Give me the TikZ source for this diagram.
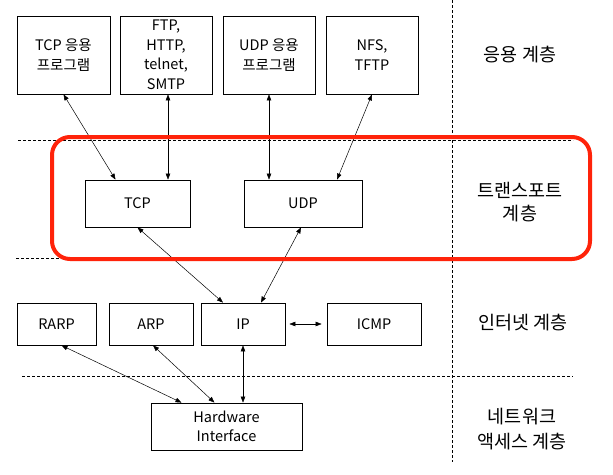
\documentclass[tikz,border=0pt]{standalone}
\usepackage{fontspec}
\setmainfont{Noto Sans CJK KR}
\usetikzlibrary{positioning, arrows.meta}
\definecolor{highlightRed}{RGB}{255, 35, 10}

\begin{document}
\begin{tikzpicture}[x=1pt, y=-1pt, font=\fontsize{14.5}{19.5}\selectfont,
    box/.style={draw, line width=0.8pt, align=center, inner sep=0pt},
    layer/.style={align=center, font=\fontsize{18.5}{23}\selectfont},
    link/.style={{Triangle[length=6pt,width=4.5pt]}-{Triangle[length=6pt,width=4.5pt]}, line width=0.5pt},
    sep/.style={dash pattern=on 3pt off 2pt, line width=0.6pt}]
        \useasboundingbox (0,0) rectangle (613,474);

        % Layer separators
        \draw[sep] (18,140) -- (573,140);
        \draw[sep] (16,258) -- (573,258);
        \draw[sep] (22,376) -- (573,376);
        \draw[sep] (452,0) -- (452,462);

        % Application layer
        \node[box, minimum width=93pt, minimum height=78pt] (tcpapp) at (63.5,55) {TCP 응용\\프로그램};
        \node[box, minimum width=92pt, minimum height=78pt] (ftp) at (166,55) {FTP,\\HTTP,\\telnet,\\SMTP};
        \node[box, minimum width=92pt, minimum height=78pt] (udpapp) at (269,55) {UDP 응용\\프로그램};
        \node[box, minimum width=92pt, minimum height=78pt] (nfs) at (372,55) {NFS,\\TFTP};

        % Transport layer
        \node[box, minimum width=105pt, minimum height=47pt] (tcp) at (137.5,203.5) {TCP};
        \node[box, minimum width=118pt, minimum height=47pt] (udp) at (303,203.5) {UDP};

        % Internet layer
        \node[box, minimum width=79pt, minimum height=42pt] (rarp) at (56.5,324) {RARP};
        \node[box, minimum width=84pt, minimum height=42pt] (arp) at (151,324) {ARP};
        \node[box, minimum width=84pt, minimum height=42pt] (ip) at (243,324) {IP};
        \node[box, minimum width=94pt, minimum height=42pt] (icmp) at (374,324) {ICMP};

        % Network access layer
        \node[box, minimum width=151pt, minimum height=47pt] (hw) at (226.5,426.5) {Hardware\\Interface};

        % Connections
        \draw[link] (tcpapp.south) -- ([xshift=-22pt]tcp.north);
        \draw[link] ([xshift=2pt]ftp.south) -- ([xshift=30.5pt]tcp.north);
        \draw[link] (udpapp.south) -- ([xshift=-34pt]udp.north);
        \draw[link] (nfs.south) -- ([xshift=34pt]udp.north);
        \draw[link] (tcp.south) -- ([xshift=-20pt]ip.north);
        \draw[link] ([xshift=-2pt]udp.south) -- ([xshift=18pt]ip.north);
        \draw[link, shorten <=4pt, shorten >=5pt] (ip.east) -- (icmp.west);
        \draw[link] ([xshift=5pt]rarp.south) -- ([xshift=-45pt]hw.north);
        \draw[link] ([xshift=2pt]arp.south) -- ([xshift=-12pt]hw.north);
        \draw[link] (ip.south) -- ([xshift=16.5pt]hw.north);

        % Layer names
        \node[layer] (applayer) at (520,55) {응용 계층};
        \node[layer] (translayer) at (520,202) {트랜스포트\\계층};
        \node[layer] (netlayer) at (523,323) {인터넷 계층};
        \node[layer, font=\fontsize{18.5}{25}\selectfont] (acclayer) at (522,429) {네트워크\\액세스 계층};

        % Highlight
        \draw[highlightRed, line width=4pt, rounded corners=18pt] (52,137) rectangle (590,259);
    \end{tikzpicture}
\end{document}
